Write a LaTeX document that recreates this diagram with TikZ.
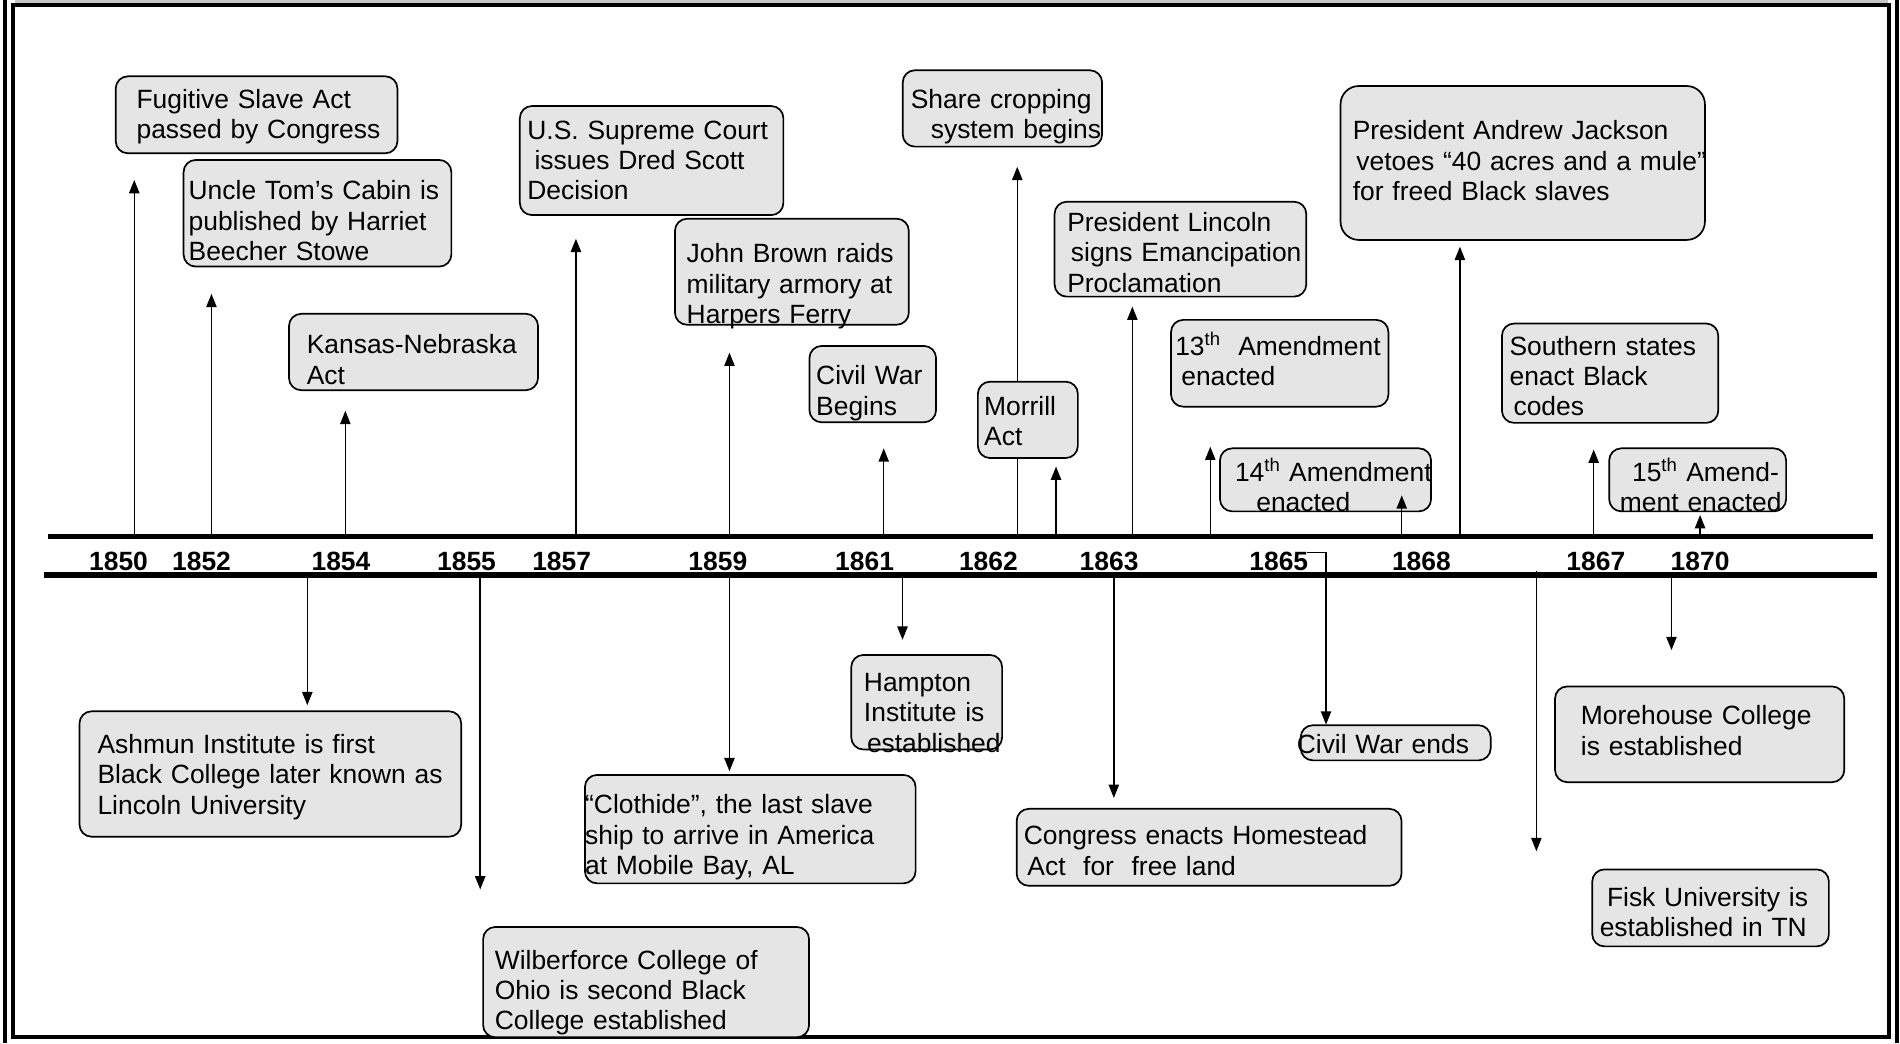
\documentclass[tikz,border=0pt]{standalone}
\usepackage{fontspec}
\setmainfont{Liberation Sans}
\usetikzlibrary{arrows.meta,fit}

\newcommand{\evfont}{\fontsize{21.8}{25}\selectfont}
\newcommand{\yrfont}{\fontsize{21.8}{25}\selectfont\bfseries}

\tikzset{
  evbox/.style={draw=black, line width=1.4pt, fill=black!10, rounded corners=10pt, inner sep=0pt},
  evtext/.style={anchor=base west, inner sep=0pt, text width=340pt, align=left, font=\evfont},
  yearlabel/.style={anchor=base, inner sep=0pt, font=\yrfont},
  timeline/.style={line width=4.2pt},
  evarrow/.style={line width=1.2pt, -{Triangle[length=11pt,width=8.5pt]}},
  frameline/.style={line width=3.3pt}
}

\begin{document}
\begin{tikzpicture}[x=1pt,y=-1pt]
\useasboundingbox (0,0) rectangle (1568,861);
% frame
\fill[black!22] (12,0) rectangle (1558,2.5);
\draw[frameline] (10.7,4) rectangle (1559,855.5);
\draw[frameline] (3.8,0) -- (3.8,861);
\draw[frameline] (1565.6,0) -- (1565.6,861);

% the two time lines
\coordinate (upper) at (0,443);
\coordinate (lower) at (0,474.5);
\draw[timeline] (40,443) -- (1545.3,443);
\draw[timeline] (36,474.5) -- (1549,474.5);

% years
\foreach \yr/\x in {1850/97.8, 1852/166.3, 1854/281.4, 1855/385, 1857/463.5,
                    1859/592.4, 1861/713.5, 1862/815.7, 1863/915.3, 1865/1055.3,
                    1868/1173, 1867/1317, 1870/1403}
  \node[yearlabel] (y\yr) at (\x,470.4) {\yr};

% share cropping line runs behind the Morrill box
\coordinate (up-share) at (839.5,137.6);
\draw[evarrow] (up-share |- upper) -- (up-share);

% events above the line
\node[evbox, fit={(95.5,63) (328,126.5)}] (fugitive) {};
\node[evtext] (fugitivetxt) at (112.5,89.5) {Fugitive Slave Act\\passed by Congress};

\node[evbox, fit={(151.5,132) (372.5,220)}] (uncletom) {};
\node[evtext] (uncletomtxt) at (155.5,165) {Uncle Tom’s Cabin is\\published by Harriet\\Beecher Stowe};

\node[evbox, fit={(238.5,259) (444,322)}] (kansas) {};
\node[evtext] (kansastxt) at (253,292) {Kansas-Nebraska\\Act};

\node[evbox, fit={(429,87.5) (646.5,177.5)}] (dred) {};
\node[evtext] (dredtxt) at (435,115) {U.S. Supreme Court\\\hspace*{6pt}issues Dred Scott\\Decision};

\node[evbox, fit={(557,180.5) (750,268)}] (johnbrown) {};
\node[evtext] (johnbrowntxt) at (566.5,217) {John Brown raids\\military armory at\\Harpers Ferry};

\node[evbox, fit={(745,58) (909.5,121)}] (share) {};
\node[evtext] (sharetxt) at (751.5,89.5) {Share cropping\\\hspace*{16.5pt}system begins};

\node[evbox, fit={(668,285.5) (772.5,348.5)}] (warbegins) {};
\node[evtext] (warbeginstxt) at (673.4,317.7) {Civil War\\Begins};

\node[evbox, fit={(807,315) (889.5,378)}] (morrill) {};
\node[evtext] (morrilltxt) at (812,342.5) {Morrill\\Act};

\node[evbox, fit={(870.3,166.5) (1078,244.8)}] (lincoln) {};
\node[evtext] (lincolntxt) at (880.6,191) {President Lincoln\\\hspace*{3pt}signs Emancipation\\Proclamation};

\node[evbox, fit={(966.4,264) (1145.8,335.6)}] (amendxiii) {};
\node[evtext] (amendxiiitxt) at (969.7,293) {13\textsuperscript{th}\ \ Amendment\\\hspace*{5pt}enacted};

\node[evbox, fit={(1006.8,370) (1181,422)}] (amendxiv) {};
\node[evtext] (amendxivtxt) at (1019,397) {14\textsuperscript{th} Amendment\\\hspace*{17.6pt}enacted};

\node[evbox, rounded corners=15pt, fit={(1106.3,71) (1407,198)}] (jackson) {};
\node[evtext] (jacksontxt) at (1116.2,115.5) {President Andrew Jackson\\\hspace*{3pt}vetoes “40 acres and a mule”\\for freed Black slaves};

\node[evbox, fit={(1239.5,267) (1418,349)}] (southern) {};
\node[evtext] (southerntxt) at (1245.6,293) {Southern states\\enact Black\\\hspace*{3.3pt}codes};

\node[evbox, fit={(1328,370) (1474,422)}] (amendxv) {};
\node[evtext] (amendxvtxt) at (1336.7,397) {\hspace*{10pt}15\textsuperscript{th} Amend-\\ment enacted};

% events below the line
\node[evbox, fit={(65.6,587) (380.6,690.5)}] (ashmun) {};
\node[evtext] (ashmuntxt) at (80.3,621.8) {Ashmun Institute is first\\Black College later known as\\Lincoln University};

\node[evbox, fit={(398.7,765) (667.7,856)}] (wilberforce) {};
\node[evtext] (wilberforcetxt) at (408.2,799.7) {Wilberforce College of\\Ohio is second Black\\College established};

\node[evbox, fit={(482.7,639.5) (755.6,729)}] (clothide) {};
\node[evtext] (clothidetxt) at (482.7,671.6) {“Clothide”, the last slave\\ship to arrive in America\\at Mobile Bay, AL};

\node[evbox, fit={(702.5,540.5) (827,618.5)}] (hampton) {};
\node[evtext] (hamptontxt) at (712.8,570.7) {Hampton\\Institute is\\\hspace*{2.5pt}established};

\node[evbox, fit={(839,667.5) (1156.6,731)}] (homestead) {};
\node[evtext] (homesteadtxt) at (844.7,697.3) {Congress enacts Homestead\\\hspace*{3pt}Act\ \ for\ \ free land};

\node[evbox, fit={(1073.4,598.5) (1230.2,627.5)}] (warends) {};
\node[evtext] (warendstxt) at (1070,621.8) {Civil War ends};

\node[evbox, fit={(1283.3,566.5) (1522,645.5)}] (morehouse) {};
\node[evtext] (morehousetxt) at (1304.5,598.2) {Morehouse College\\is established};

\node[evbox, fit={(1314,717.5) (1509.3,781)}] (fisk) {};
\node[evtext] (fisktxt) at (1320,748) {\hspace*{6pt}Fisk University is\\established in TN};

% arrows up from the upper line
\foreach \n/\x/\y in {fugitive/110.8/148.5, uncletom/174.5/242.5, kansas/285/339,
                      dred/475.3/197, johnbrown/602/291, warbegins/729.3/370,
                      morrill/871.5/385, lincoln/934.5/253, amendxiii/998.8/368.6,
                      amendxiv/1156.8/408.8, jackson/1204.8/203.6, southern/1315.2/371,
                      amendxv/1403/425}{
  \coordinate (up-\n) at (\x,\y);
  \draw[evarrow] (up-\n |- upper) -- (up-\n);
}

% arrows down from the lower line
\foreach \n/\x/\y in {ashmun/253.6/582, wilberforce/396.3/734, clothide/602/636.5,
                      hampton/744.8/528, homestead/919.2/658.5, morehouse/1379.4/536.5}{
  \coordinate (down-\n) at (\x,\y);
  \draw[evarrow] (down-\n |- lower) -- (down-\n);
}
\coordinate (down-fisk) at (1267.9,702.5);
\draw[evarrow] (1267.9,471) -- (down-fisk);
\coordinate (kink) at (1094.3,455.8);
\coordinate (down-warends) at (1094.3,598);
\draw[evarrow] (1079,455.8) -- (kink) -- (down-warends);
\end{tikzpicture}
\end{document}
